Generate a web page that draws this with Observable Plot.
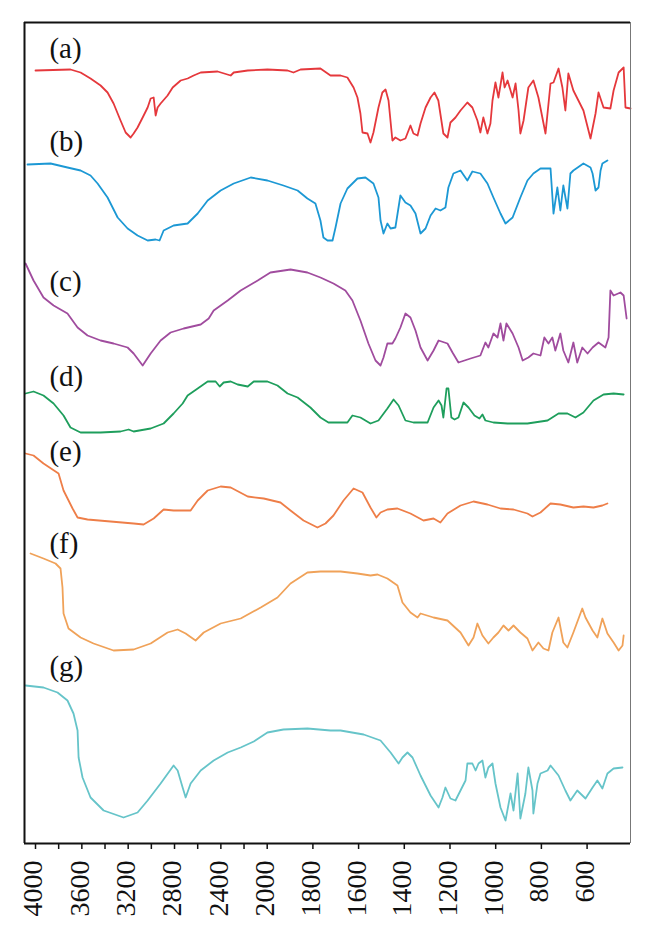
<!DOCTYPE html>
<html>
<head>
<meta charset="utf-8">
<script src="https://cdn.jsdelivr.net/npm/d3@7"></script>
<script src="https://cdn.jsdelivr.net/npm/@observablehq/plot@0.6"></script>
<style>
  html, body { margin: 0; padding: 0; background: #fff; }
  #chart svg { display: block; }
</style>
</head>
<body>
<div id="chart"></div>
<script>
// FTIR spectra, wavenumber (cm^-1) vs. offset transmittance (arbitrary units)
const seriesNames = ["(a)", "(b)", "(c)", "(d)", "(e)", "(f)", "(g)"];
const seriesColors = ["#e5383c", "#1c98d4", "#a04c9e", "#1e9e5c", "#ee7e48", "#f0a259", "#66c4c9"];

const specA = [[4000,773],[3698,774],[3611,771],[3525,765],[3438,758],[3378,751],[3326,740],[3266,723],[3222,711],[3179,706],[3153,710],[3119,716],[3075,726],[3032,736],[3006,745],[2980,746],[2963,728],[2946,736],[2920,740],[2860,748],[2816,756],[2747,763],[2687,765],[2635,768],[2574,771],[2428,772],[2315,768],[2289,771],[2168,773],[1999,774],[1911,773],[1885,771],[1854,774],[1767,775],[1723,768],[1679,768],[1649,766],[1622,756],[1605,746],[1592,730],[1583,711],[1561,710],[1548,701],[1535,711],[1513,736],[1496,751],[1482,754],[1469,743],[1452,703],[1439,706],[1417,703],[1395,705],[1373,718],[1360,710],[1342,708],[1329,720],[1307,736],[1285,746],[1268,751],[1251,743],[1229,710],[1211,706],[1198,721],[1176,726],[1154,733],[1124,741],[1102,736],[1080,723],[1067,711],[1054,726],[1036,710],[1023,720],[1014,743],[1001,761],[988,746],[970,771],[961,756],[948,763],[926,746],[913,760],[900,733],[892,710],[878,723],[857,756],[835,763],[813,746],[782,710],[760,760],[747,761],[725,775],[708,756],[695,733],[682,770],[660,753],[638,743],[616,733],[585,705],[563,730],[550,751],[528,736],[498,735],[484,753],[462,771],[440,776],[432,736],[410,735]];

const specB = [[4069,679],[3870,680],[3724,676],[3611,673],[3525,668],[3464,660],[3378,646],[3291,626],[3205,615],[3119,608],[3032,603],[2963,604],[2929,603],[2894,613],[2808,618],[2687,620],[2600,630],[2514,643],[2402,653],[2289,660],[2142,666],[1999,663],[1929,658],[1867,653],[1824,645],[1789,640],[1767,623],[1754,606],[1736,603],[1714,603],[1701,616],[1679,640],[1649,655],[1605,665],[1570,666],[1535,660],[1513,646],[1504,623],[1491,610],[1474,620],[1460,615],[1439,616],[1417,648],[1395,641],[1373,638],[1351,630],[1329,610],[1307,615],[1285,628],[1263,635],[1242,633],[1220,636],[1207,656],[1185,670],[1154,673],[1124,663],[1102,672],[1067,670],[1036,660],[1010,646],[979,630],[957,620],[926,626],[892,646],[861,663],[835,670],[804,675],[760,675],[747,630],[730,656],[717,633],[704,658],[686,635],[673,670],[660,673],[616,680],[585,676],[576,670],[563,653],[550,656],[541,673],[533,680],[511,683]];

const specC = [[4086,580],[4017,563],[3931,546],[3844,538],[3724,530],[3637,516],[3551,508],[3438,503],[3326,500],[3205,496],[3153,490],[3075,478],[3006,490],[2920,503],[2834,511],[2721,515],[2574,519],[2505,525],[2462,533],[2341,543],[2229,553],[2082,563],[1986,571],[1898,574],[1824,571],[1767,566],[1710,560],[1658,553],[1627,543],[1592,523],[1557,500],[1526,483],[1504,478],[1491,486],[1474,500],[1452,500],[1439,505],[1417,516],[1395,530],[1373,526],[1351,513],[1329,496],[1298,483],[1272,493],[1250,503],[1211,500],[1189,491],[1163,481],[1110,485],[1067,488],[1045,501],[1032,496],[1010,510],[992,506],[979,520],[966,503],[953,520],[926,510],[900,496],[882,483],[857,486],[835,490],[804,488],[787,506],[769,500],[752,506],[739,493],[717,510],[704,493],[682,481],[660,501],[643,481],[621,496],[598,490],[576,496],[550,501],[520,496],[506,506],[498,553],[484,548],[454,551],[440,548],[427,525]];

const specD = [[4086,450],[4017,452],[3931,448],[3844,440],[3758,428],[3698,416],[3611,411],[3438,411],[3266,412],[3196,414],[3153,412],[3006,415],[2894,420],[2808,430],[2730,440],[2687,448],[2600,455],[2514,462],[2445,462],[2410,457],[2376,461],[2315,462],[2255,459],[2168,457],[2116,462],[1999,462],[1955,458],[1911,450],[1867,446],[1811,436],[1767,426],[1732,421],[1649,421],[1627,428],[1592,426],[1548,420],[1513,423],[1474,435],[1447,444],[1425,438],[1395,423],[1360,421],[1298,421],[1272,436],[1250,443],[1237,438],[1229,426],[1215,455],[1207,455],[1194,426],[1180,424],[1163,426],[1141,441],[1119,436],[1093,428],[1071,425],[1058,429],[1045,423],[1010,421],[948,420],[861,420],[773,423],[725,430],[686,430],[651,426],[616,431],[572,443],[528,449],[484,450],[440,449]];

const specE = [[4086,390],[4017,388],[3931,380],[3801,370],[3758,353],[3680,335],[3637,326],[3551,324],[3352,322],[3153,320],[3067,319],[2980,325],[2894,334],[2808,333],[2661,333],[2600,343],[2514,353],[2402,357],[2315,356],[2168,347],[2030,345],[1942,341],[1898,333],[1841,323],[1780,316],[1745,320],[1710,328],[1666,343],[1622,355],[1583,351],[1548,336],[1522,326],[1504,331],[1474,334],[1430,335],[1373,330],[1316,323],[1272,325],[1242,321],[1211,330],[1154,338],[1097,342],[1036,339],[979,335],[922,334],[861,330],[839,327],[804,331],[760,340],[717,339],[660,336],[616,337],[572,336],[533,338],[511,340]];

const specF = [[4043,290],[3931,285],[3827,280],[3784,275],[3767,256],[3758,230],[3715,215],[3611,206],[3499,200],[3326,193],[3153,194],[3006,200],[2860,211],[2773,214],[2704,210],[2618,203],[2548,211],[2402,220],[2229,225],[2056,236],[1955,246],[1898,260],[1824,271],[1767,272],[1679,272],[1605,270],[1548,268],[1517,269],[1474,265],[1430,258],[1408,241],[1373,231],[1342,226],[1329,230],[1272,226],[1211,223],[1154,211],[1119,198],[1097,206],[1080,220],[1058,208],[1032,200],[1010,206],[988,211],[966,218],[944,213],[922,218],[892,211],[861,205],[839,193],[813,201],[791,195],[769,193],[752,211],[725,226],[704,201],[686,196],[660,211],[621,235],[607,226],[576,213],[555,206],[533,225],[511,210],[484,201],[462,193],[445,198],[440,208]];

const specG = [[4086,158],[3931,156],[3810,151],[3724,143],[3672,130],[3637,113],[3628,86],[3594,66],[3525,46],[3412,33],[3240,26],[3119,31],[3032,43],[2920,60],[2808,78],[2773,73],[2730,56],[2704,46],[2661,60],[2574,73],[2462,83],[2341,91],[2229,96],[2116,102],[1999,111],[1929,114],[1824,115],[1723,113],[1679,113],[1578,109],[1504,103],[1460,91],[1425,80],[1408,86],[1386,91],[1364,86],[1329,68],[1285,48],[1250,36],[1233,46],[1220,56],[1198,45],[1176,43],[1154,53],[1132,63],[1124,80],[1102,80],[1088,73],[1075,80],[1058,83],[1045,66],[1032,76],[1014,80],[1001,60],[979,36],[957,23],[935,50],[922,33],[904,70],[892,25],[870,50],[857,76],[839,53],[835,30],[817,60],[804,70],[773,73],[760,78],[725,68],[695,53],[673,43],[643,53],[607,45],[576,56],[555,63],[533,55],[511,70],[484,75],[445,76]];

const spectra = [specA, specB, specC, specD, specE, specF, specG];

// label anchors (wavenumber, offset transmittance)
const labelWn = [3880, 3880, 3880, 3880, 3880, 3880, 3880];
const labelT = [786, 693, 553, 458, 383, 291, 168];

// axis ticks
const majorTicks = [4000, 3600, 3200, 2800, 2400, 2000, 1800, 1600, 1400, 1200, 1000, 800, 600];
const minorTicks = [3800, 3400, 3000, 2600, 2200];

// axis break: 4000-2000 compressed, 2000-410 expanded
const xDomain = [4095, 2000, 410];
const yDomain = [0, 821];

const rows = spectra.flatMap((s, i) => s.map(([wn, t]) => ({series: seriesNames[i], wn, t})));
const labels = seriesNames.map((name, i) => ({name, wn: labelWn[i], t: labelT[i]}));

const serif = "Liberation Serif, Times New Roman, serif";

const lineMarks = seriesNames.map((name, i) =>
  Plot.line(rows.filter(r => r.series === name), {
    x: "wn", y: "t", stroke: seriesColors[i], strokeWidth: 1.8, curve: "linear"
  })
);

const chart = Plot.plot({
  width: 652,
  height: 943,
  marginTop: 22,
  marginBottom: 100,
  marginLeft: 24,
  marginRight: 22,
  style: {fontFamily: serif, background: "#fff"},
  x: {type: "linear", domain: xDomain, range: [24, 266.7, 630], label: null},
  y: {type: "linear", domain: yDomain, axis: null, label: null},
  marks: [
    ...lineMarks,
    Plot.text(labels, {x: "wn", y: "t", text: "name", textAnchor: "start", lineAnchor: "bottom", fontSize: 29, fontFamily: serif, fill: "#111"}),
    Plot.ruleY([yDomain[0], yDomain[1]], {stroke: "#111", strokeWidth: 2}),
    Plot.ruleX([xDomain[0]], {stroke: "#111", strokeWidth: 2}),
    Plot.ruleX([xDomain[2]], {stroke: "#777", strokeWidth: 1}),
    Plot.axisX(majorTicks.concat(minorTicks), {anchor: "bottom", tickSize: 6, tickFormat: () => "", stroke: "#111", strokeWidth: 1.5}),
    Plot.text(majorTicks, {x: d => d, text: d => String(d), frameAnchor: "bottom", rotate: -90, textAnchor: "end", lineAnchor: "middle", dy: 17, dx: -2, fontSize: 28, fontFamily: serif, fill: "#111"})
  ]
});

document.getElementById("chart").appendChild(chart);
</script>
</body>
</html>
